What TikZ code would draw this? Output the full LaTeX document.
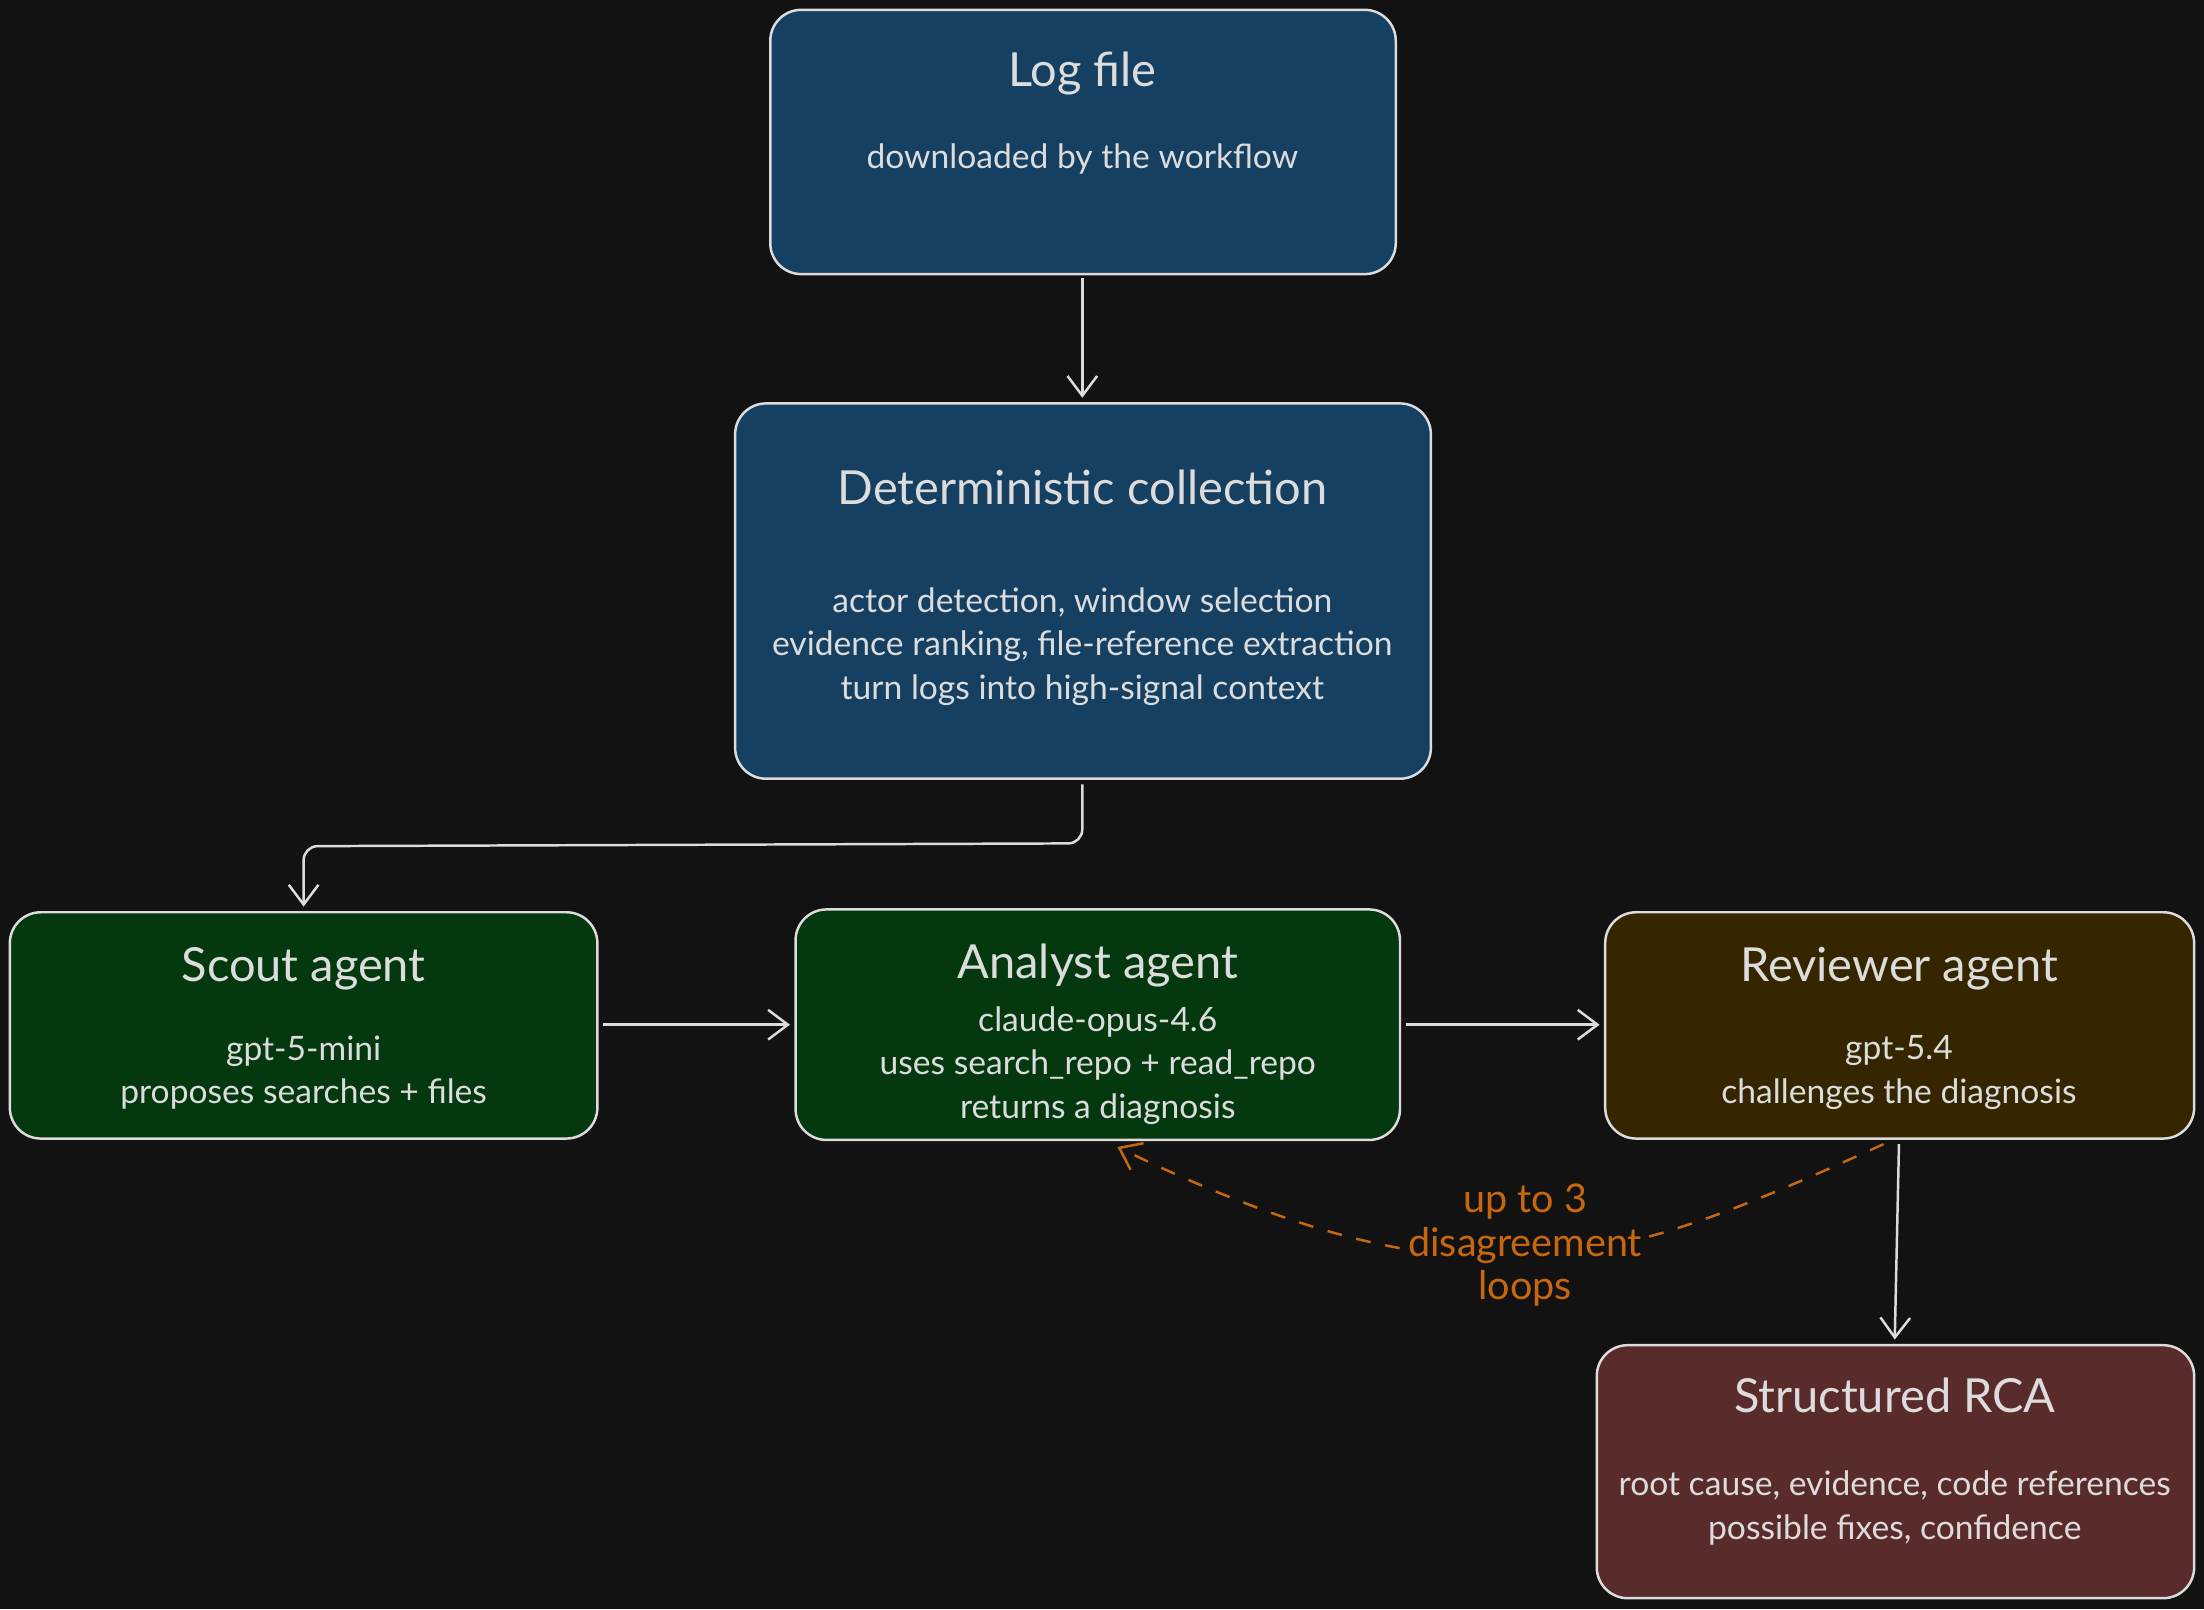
\documentclass[tikz,border=0pt]{standalone}
\usepackage{fontspec}
\setmainfont{Lato}
\usetikzlibrary{arrows.meta}
\definecolor{bg}{HTML}{121212}
\definecolor{txt}{HTML}{DCDCDC}
\definecolor{cblue}{HTML}{154062}
\definecolor{cgreen}{HTML}{04380E}
\definecolor{cbrown}{HTML}{352600}
\definecolor{cred}{HTML}{5A2B2B}
\definecolor{corange}{HTML}{C8680E}
\begin{document}
\begin{tikzpicture}[x=0.01cm,y=-0.01cm,
  box/.style={draw=txt, line width=0.5pt, rounded corners=0.22cm},
  ttl/.style={text=txt, font=\fontsize{9.5}{11}\selectfont},
  sub/.style={text=txt, font=\fontsize{6.8}{8.8}\selectfont, align=center},
  arr/.style={draw=txt, line width=0.5pt, -{Straight Barb[length=4pt,width=6pt]}}]
\fill[bg] (0,0) rectangle (1568,1145);
\useasboundingbox (0,0) rectangle (1568,1145);
% boxes
\draw[box, fill=cblue] (548,7) rectangle (993,195);
\node[ttl] (logt) at (770,52) {Log file};
\node[sub] (logs) at (770,113) {downloaded by the workflow};
\coordinate (logb) at (770,198);
\draw[box, fill=cblue] (523,287) rectangle (1018,554);
\node[ttl] (dett) at (770,347) {Deterministic collection};
\node[sub] (dets) at (770,460) {actor detection, window selection\\evidence ranking, file-reference extraction\\turn logs into high-signal context};
\coordinate (dettop) at (770,283);
\coordinate (detb) at (770,558);
\draw[box, fill=cgreen] (7,649) rectangle (425,810);
\node[ttl] (sct) at (216,689) {Scout agent};
\node[sub] (scs) at (216,763) {gpt-5-mini\\proposes searches + files};
\coordinate (sctop) at (216,645);
\coordinate (scr) at (429,729);
\draw[box, fill=cgreen] (566,647) rectangle (996,811);
\node[ttl] (ant) at (781,687) {Analyst agent};
\node[sub] (ans) at (781,758) {claude-opus-4.6\\uses search\_repo + read\_repo\\returns a diagnosis};
\coordinate (anl) at (562,729);
\coordinate (anr) at (1000,729);
\coordinate (anb) at (795,816);
\draw[box, fill=cbrown] (1142,649) rectangle (1561,810);
\node[ttl] (rvt) at (1351,689) {Reviewer agent};
\node[sub] (rvs) at (1351,763) {gpt-5.4\\challenges the diagnosis};
\coordinate (rvl) at (1138,729);
\coordinate (rvb) at (1351,814);
\coordinate (rvb2) at (1340,814);
\draw[box, fill=cred] (1136,957) rectangle (1561,1137);
\node[ttl] (rct) at (1348,993) {Structured RCA};
\node[sub] (rcs) at (1348,1073) {root cause, evidence, code references\\possible fixes, confidence};
\coordinate (rctop) at (1348,953);
% connectors
\draw[arr] (logb) -- (dettop);
\draw[arr, rounded corners=0.1cm] (detb) -- (770,600) -- (216,602) -- (sctop);
\draw[arr] (scr) -- (anl);
\draw[arr] (anr) -- (rvl);
\draw[arr] (rvb) -- (rctop);
\draw[corange, line width=0.5pt, dashed, -{Straight Barb[length=4pt,width=6pt]}]
  (rvb2) .. controls (1150,900) and (1050,940) .. (anb);
\node[text=corange, font=\fontsize{8}{8.8}\selectfont, align=center, fill=bg, inner sep=1pt] (lbl) at (1085,886) {up to 3\\disagreement\\loops};
\end{tikzpicture}
\end{document}
